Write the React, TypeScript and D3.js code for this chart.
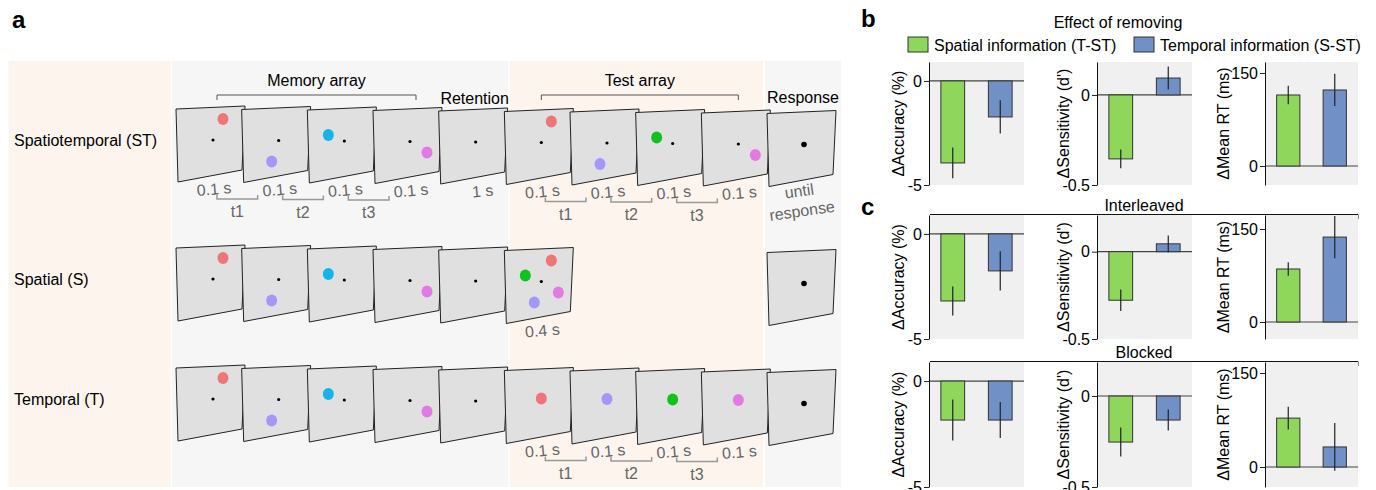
import React, { useEffect, useRef } from 'react';
import * as d3 from 'd3';

const FONT = '"Liberation Sans", Arial, Helvetica, sans-serif';

// ---- panel a: task schematic ----
const conditions = ['Spatiotemporal (ST)', 'Spatial (S)', 'Temporal (T)'];
const phases = ['conditions', 'memory', 'test', 'response'];
const phaseSlots = [[-2.55, -0.08], [-0.06, 5.06], [5.08, 8.94], [8.97, 10.13]];
const phaseFills = ['#fdf4ee', '#f6f6f6', '#fdf4ee', '#f6f6f6'];

const stimColors: Record<string, string> = {
  red: '#f07575',
  purple: '#a398fa',
  cyan: '#14b4ea',
  magenta: '#e27ae4',
  green: '#12c21c',
};

// items shown on each screen: colour@location
const memoryScreens = [['red@UR'], ['purple@LL'], ['cyan@L'], ['magenta@LR'], []];
const stTestScreens = [['red@UR'], ['purple@LL'], ['green@L'], ['magenta@LR']];
const sTestScreens = [['green@L', 'red@UR', 'magenta@LR', 'purple@LL']];
const tTestScreens = [['red@C'], ['purple@C'], ['green@C'], ['magenta@C']];

const stDurations = ['0.1 s', '0.1 s', '0.1 s', '0.1 s', '1 s', '0.1 s', '0.1 s', '0.1 s', '0.1 s'];
const sDurations = ['', '', '', '', '', '0.4 s'];
const tDurations = ['', '', '', '', '', '0.1 s', '0.1 s', '0.1 s', '0.1 s'];
const intervalNames = ['t1', 't2', 't3'];

// ---- panels b, c: effect of removing information ----
const groups = ['T-ST', 'S-ST'];
const groupLabels = ['Spatial information (T-ST)', 'Temporal information (S-ST)'];
const groupFills = ['#8ed75b', '#7190c5'];
const measures = ['\u0394Accuracy (%)', "\u0394Sensitivity (d')", '\u0394Mean RT (ms)'];
const measureTicks = [[0, -5], [0, -0.5], [0, 150]];
const effectRows = ['all', 'Interleaved', 'Blocked'];

const allMeans = [[-3.94, -1.73], [-0.355, 0.094], [114.5, 122.6]];
const allErrs = [[0.74, 0.8], [0.052, 0.064], [15, 26]];
const interleavedMeans = [[-3.19, -1.76], [-0.278, 0.045], [85.5, 137]];
const interleavedErrs = [[0.69, 0.93], [0.062, 0.048], [11, 34]];
const blockedMeans = [[-1.84, -1.84], [-0.253, -0.132], [78, 32]];
const blockedErrs = [[0.97, 0.85], [0.08, 0.058], [18, 38]];

const allDomains = [[-5, 0.91], [-0.5, 0.183], [-30.6, 167.7]];
const interleavedDomains = [[-5, 0.9], [-0.5, 0.21], [-27.4, 172.6]];
const blockedDomains = [[-5, 0.9], [-0.5, 0.187], [-31.9, 167.5]];

export default function App() {
  const svgRef = useRef<SVGSVGElement>(null);

  useEffect(() => {
    if (!svgRef.current) return;
    const svg = d3.select(svgRef.current);
    svg.selectAll('*').remove();
    svg.style('font-family', FONT);

    // ================= panel a =================
    const slotX = d3.scaleLinear().domain([0, 9]).range([176, 767]);
    const rowTop = d3.scaleOrdinal<string, number>().domain(conditions).range([109, 248, 368]);
    const top = (c: string, s: number) => rowTop(c) + 0.5 * s;
    const loc: Record<string, [number, number]> = {
      UR: [47, 10], LL: [30, 52], L: [21, 25], LR: [54, 42], C: [37, 28],
    };
    const shape = [[0, 0], [69, -3], [66, 61], [2, 73]];

    svg.append('text').attr('x', 12).attr('y', 28)
      .attr('font-size', 24).attr('font-weight', 'bold').text('a');

    // phase bands
    phases.forEach((p, i) => {
      const [a, b] = phaseSlots[i];
      svg.append('rect')
        .attr('x', slotX(a)).attr('y', 61)
        .attr('width', slotX(b) - slotX(a)).attr('height', 426)
        .attr('fill', phaseFills[i]);
    });

    const g = svg.append('g');

    const drawScreen = (c: string, s: number, items: string[], fix: boolean, response = false) => {
      const x0 = slotX(s), y0 = top(c, s);
      g.append('path')
        .attr('d', 'M' + shape.map(([dx, dy]) => `${x0 + dx},${y0 + dy}`).join('L') + 'Z')
        .attr('fill', '#e0e0e0').attr('stroke', '#222').attr('stroke-width', 1);
      if (fix) {
        g.append('circle').attr('cx', x0 + 37).attr('cy', y0 + 31)
          .attr('r', response ? 2.8 : 1.6).attr('fill', '#000');
      }
      items.forEach(it => {
        const [col, l] = it.split('@');
        g.append('ellipse')
          .attr('cx', x0 + loc[l][0]).attr('cy', y0 + loc[l][1])
          .attr('rx', 5.5).attr('ry', 6).attr('fill', stimColors[col]);
      });
    };

    conditions.forEach((c, ci) => {
      // row label
      svg.append('text').attr('x', 14).attr('y', rowTop(c) + 37)
        .attr('font-size', 16).text(c);
      memoryScreens.forEach((items, s) => drawScreen(c, s, items, true));
      const tests = ci === 0 ? stTestScreens : ci === 1 ? sTestScreens : tTestScreens;
      tests.forEach((items, k) => drawScreen(c, 5 + k, items, ci !== 2));
      drawScreen(c, 9, [], true, true);

      const durs = ci === 0 ? stDurations : ci === 1 ? sDurations : tDurations;
      durs.forEach((d, s) => {
        if (!d) return;
        const cx = slotX(s) + (d === '1 s' ? 44 : 38);
        const cy = top(c, s) + 80;
        svg.append('text')
          .attr('transform', `translate(${cx},${cy}) rotate(-5)`)
          .attr('text-anchor', 'middle').attr('dy', '0.35em')
          .attr('font-size', 16).attr('fill', '#666').text(d);
      });
    });

    // intervals t1..t3
    const intervalStarts: [string, number][] = [
      [conditions[0], 0], [conditions[0], 5], [conditions[2], 5],
    ];
    intervalStarts.forEach(([c, s0]) => {
      intervalNames.forEach((n, k) => {
        const s = s0 + k;
        const x1 = slotX(s) + 41, x2 = slotX(s + 1) + 16;
        const y = top(c, s) + 90;
        svg.append('path')
          .attr('d', `M${x1},${y - 4}V${y}H${x2}V${y - 4}`)
          .attr('fill', 'none').attr('stroke', '#999').attr('stroke-width', 1.5);
        svg.append('text').attr('x', (x1 + x2) / 2).attr('y', y + 18)
          .attr('text-anchor', 'middle').attr('font-size', 16).attr('fill', '#666').text(n);
      });
    });

    // "until response"
    const ur = svg.append('text')
      .attr('transform', `translate(${slotX(9) + 33},${top(conditions[0], 9) + 83}) rotate(-8)`)
      .attr('text-anchor', 'middle').attr('font-size', 16).attr('fill', '#666');
    ur.append('tspan').attr('x', 0).attr('y', 0).text('until');
    ur.append('tspan').attr('x', 0).attr('y', 20).text('response');

    // headers
    const r0 = rowTop(conditions[0]);
    const header = (label: string, xa: number, xb: number) => {
      svg.append('path').attr('d', `M${xa},${r0 - 9}V${r0 - 14}H${xb}V${r0 - 9}`)
        .attr('fill', 'none').attr('stroke', '#555').attr('stroke-width', 1);
      svg.append('text').attr('x', (xa + xb) / 2).attr('y', r0 - 23)
        .attr('text-anchor', 'middle').attr('font-size', 16).text(label);
    };
    header('Memory array', slotX(0) + 41, slotX(3) + 43);
    header('Test array', slotX(5) + 37, slotX(8) + 37);
    svg.append('text').attr('x', slotX(4) + 36).attr('y', r0 - 5)
      .attr('text-anchor', 'middle').attr('font-size', 16).text('Retention');
    svg.append('text').attr('x', slotX(9) + 36).attr('y', r0 - 6)
      .attr('text-anchor', 'middle').attr('font-size', 16).text('Response');

    // ================= panels b, c =================
    svg.append('text').attr('x', 861).attr('y', 27)
      .attr('font-size', 24).attr('font-weight', 'bold').text('b');
    svg.append('text').attr('x', 861).attr('y', 215)
      .attr('font-size', 24).attr('font-weight', 'bold').text('c');

    svg.append('text').attr('x', 1118).attr('y', 28)
      .attr('text-anchor', 'middle').attr('font-size', 16).text('Effect of removing');
    const legendX = [908, 1134];
    groups.forEach((gname, i) => {
      svg.append('rect').attr('x', legendX[i]).attr('y', 37)
        .attr('width', 20).attr('height', 15)
        .attr('fill', groupFills[i]).attr('stroke', '#333');
      svg.append('text').attr('x', legendX[i] + 26).attr('y', 50.5)
        .attr('font-size', 16).text(groupLabels[i]);
    });

    const plotLeft = [929, 1097, 1265];
    const plotWidth = [95, 95, 93];
    const rowExtent = [[62, 185], [215, 339], [362, 487]];
    const labelOffset = [25, 28, 36];
    const meansByRow = [allMeans, interleavedMeans, blockedMeans];
    const errsByRow = [allErrs, interleavedErrs, blockedErrs];
    const domainsByRow = [allDomains, interleavedDomains, blockedDomains];

    effectRows.forEach((row, ri) => {
      const [y0, y1] = rowExtent[ri];
      if (ri > 0) {
        svg.append('text').attr('x', 1144).attr('y', y0 - 4)
          .attr('text-anchor', 'middle').attr('font-size', 16).text(row);
        svg.append('path')
          .attr('d', `M930,${y0 - 0.5}H1358V${y0 + 4}`)
          .attr('fill', 'none').attr('stroke', '#111').attr('stroke-width', 1);
      }
      measures.forEach((m, mi) => {
        const x0 = plotLeft[mi], w = plotWidth[mi];
        const y = d3.scaleLinear().domain(domainsByRow[ri][mi]).range([y1, y0]);
        const xb = d3.scaleBand().domain(groups).range([0, w]).paddingInner(0.5).paddingOuter(0.25);
        const p = svg.append('g').attr('transform', `translate(${x0},0)`);

        p.append('rect').attr('x', 0).attr('y', y0).attr('width', w).attr('height', y1 - y0)
          .attr('fill', '#f0f0f0');
        p.append('line').attr('x1', 0).attr('x2', w).attr('y1', y(0)).attr('y2', y(0))
          .attr('stroke', '#444').attr('stroke-width', 1.2);

        groups.forEach((gname, gi) => {
          const v = meansByRow[ri][mi][gi];
          const e = errsByRow[ri][mi][gi];
          const bx = xb(gname) as number;
          p.append('rect')
            .attr('x', bx).attr('y', Math.min(y(v), y(0)))
            .attr('width', xb.bandwidth()).attr('height', Math.abs(y(v) - y(0)))
            .attr('fill', groupFills[gi]).attr('stroke', '#333').attr('stroke-width', 1);
          p.append('line')
            .attr('x1', bx + xb.bandwidth() / 2).attr('x2', bx + xb.bandwidth() / 2)
            .attr('y1', y(v - e)).attr('y2', y(v + e))
            .attr('stroke', '#222').attr('stroke-width', 1.2);
        });

        const ax = p.append('g').call(
          d3.axisLeft(y).tickValues(measureTicks[mi]).tickSize(5).tickPadding(2)
            .tickSizeOuter(0).tickFormat(d => String(d))
        );
        ax.selectAll('text').attr('font-size', 16).attr('font-family', FONT).attr('fill', '#000');
        ax.selectAll('line').attr('stroke', '#222');
        ax.select('.domain').attr('stroke', '#111');

        svg.append('text')
          .attr('transform', `translate(${x0 - labelOffset[mi]},${(y0 + y1) / 2}) rotate(-90)`)
          .attr('text-anchor', 'middle').attr('font-size', 16).text(m);
      });
    });
  }, []);

  return (
    <div style={{ position: 'absolute', left: 0, top: 0 }}>
      <svg ref={svgRef} width={1376} height={490} style={{ display: 'block', background: '#fff' }} />
    </div>
  );
}
